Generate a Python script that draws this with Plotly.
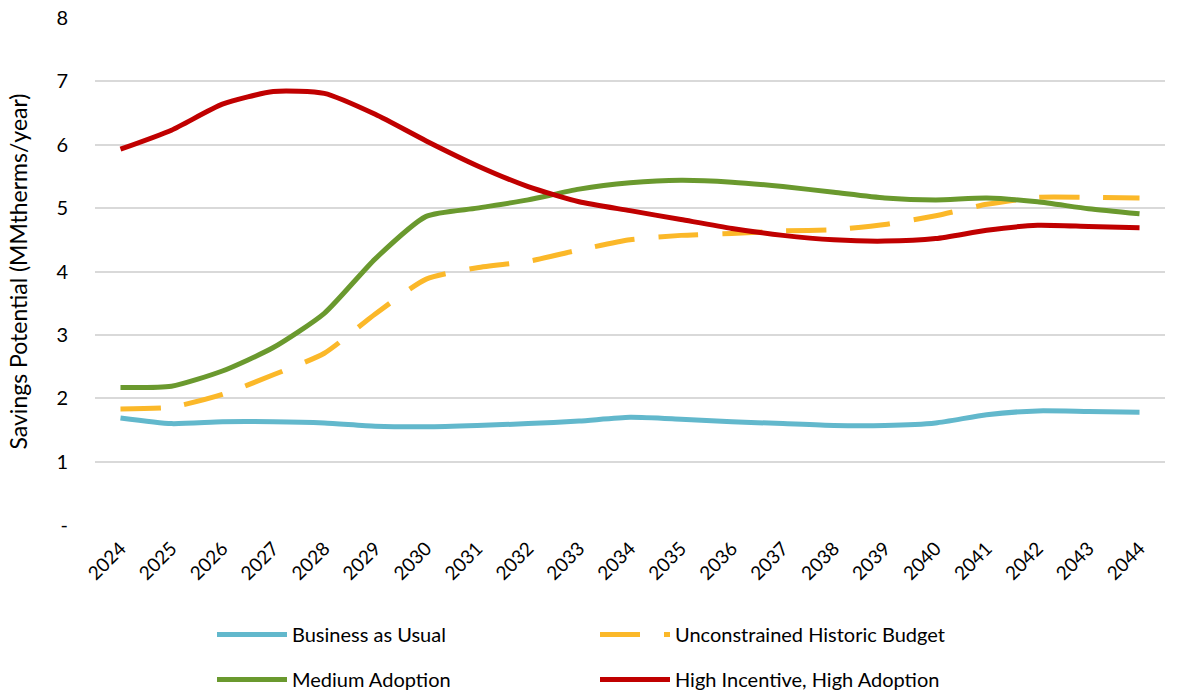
import plotly.graph_objects as go

years = list(range(2024, 2045))

business_as_usual = [1.69, 1.60, 1.63, 1.63, 1.61, 1.56, 1.55, 1.57, 1.60, 1.64, 1.70,
                     1.67, 1.63, 1.60, 1.57, 1.57, 1.61, 1.74, 1.80, 1.79, 1.78]
unconstrained_budget = [1.83, 1.86, 2.06, 2.37, 2.71, 3.33, 3.88, 4.06, 4.16, 4.34, 4.50,
                        4.57, 4.60, 4.64, 4.66, 4.74, 4.88, 5.06, 5.17, 5.17, 5.16]
medium_adoption = [2.17, 2.19, 2.43, 2.80, 3.34, 4.20, 4.87, 5.00, 5.13, 5.30, 5.40,
                   5.44, 5.41, 5.34, 5.25, 5.16, 5.13, 5.16, 5.10, 4.99, 4.91]
high_incentive = [5.93, 6.23, 6.64, 6.84, 6.81, 6.48, 6.06, 5.67, 5.34, 5.10, 4.96,
                  4.82, 4.68, 4.57, 4.50, 4.48, 4.52, 4.65, 4.73, 4.71, 4.69]

y_ticks = [0, 1, 2, 3, 4, 5, 6, 7, 8]
y_ticktext = ['-', '1', '2', '3', '4', '5', '6', '7', '8']

font_family = 'Lato, Open Sans, sans-serif'

fig = go.Figure()

series = [
    ('Business as Usual', business_as_usual, '#62B8CC', 'solid', 'legend'),
    ('Unconstrained Historic Budget', unconstrained_budget, '#FBB829', '40px,24px', 'legend'),
    ('Medium Adoption', medium_adoption, '#6A992E', 'solid', 'legend2'),
    ('High Incentive, High Adoption', high_incentive, '#C00000', 'solid', 'legend2'),
]

# red drawn last so it sits on top, as in the reference
for name, vals, color, dash, leg in series:
    fig.add_trace(go.Scatter(
        x=years, y=vals, name=name, mode='lines',
        line=dict(color=color, width=5, dash=dash, shape='spline', smoothing=0.6),
        legend=leg,
    ))

plot_h = 694 - 18 - 169

legend_style = dict(
    orientation='h',
    xanchor='left', yanchor='top',
    x=(212 - 95) / 1070,
    entrywidth=298, entrywidthmode='pixels',
    itemwidth=70,
    font=dict(family=font_family, size=20, color='#000000'),
    bgcolor='rgba(0,0,0,0)',
    traceorder='normal',
)

fig.update_layout(
    width=1180, height=694,
    margin=dict(l=95, r=15, t=18, b=169, autoexpand=False),
    paper_bgcolor='white', plot_bgcolor='white',
    font=dict(family=font_family, size=19, color='#000000'),
    showlegend=True,
    legend=dict(legend_style, y=-(634 - 19 - 525) / plot_h),
    legend2=dict(legend_style, y=-(679 - 19 - 525) / plot_h),
    xaxis=dict(
        range=[2023.5, 2044.5],
        tickmode='array', tickvals=years, ticktext=[str(y) for y in years],
        tickangle=-45, showgrid=False, zeroline=False, showline=False,
        tickfont=dict(family=font_family, size=19),
        ticks='outside', ticklen=4, tickcolor='white',
        automargin=False,
    ),
    yaxis=dict(
        range=[0, 8],
        tickmode='array', tickvals=y_ticks, ticktext=y_ticktext,
        showgrid=True, gridcolor='#D9D9D9', gridwidth=1.5,
        zeroline=False, showline=False,
        ticks='outside', ticklen=22, tickcolor='white',
        tickfont=dict(family=font_family, size=20),
        automargin=False,
        title=dict(text='Savings Potential (MMtherms/year)',
                   font=dict(family=font_family, size=23), standoff=22),
    ),
)

fig.write_html("out.html", config={'displayModeBar': False},
               post_script="document.body.style.margin='0';document.body.style.overflow='hidden';")
